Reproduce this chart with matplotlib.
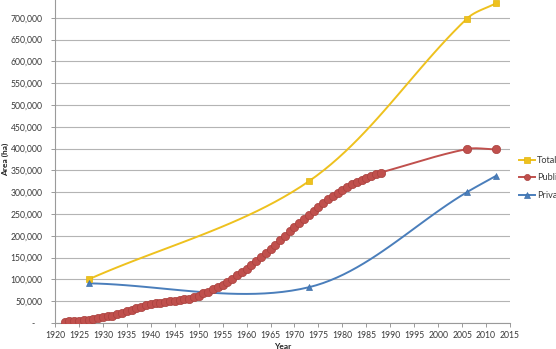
import numpy as np
import matplotlib
matplotlib.use("Agg")
import matplotlib.pyplot as plt
from matplotlib.ticker import FuncFormatter, MultipleLocator, FixedLocator

plt.rcParams['font.family'] = ['Lato', 'DejaVu Sans']

# Area under forest ownership (ha)
total_years = [1927, 1973, 2006, 2012]
total_area = [100000, 325000, 698000, 733000]

private_years = [1927, 1973, 2006, 2012]
private_area = [91000, 82000, 300000, 337000]

public_years = list(range(1922, 1989)) + [2006, 2012]
public_area = [
    3000, 3500, 4000, 5000, 6000, 7500, 9000, 11000, 13000, 15000,      # 1922-1931
    17000, 20000, 23500, 27000, 30500, 34000, 37500, 40500, 43000, 45000,  # 1932-1941
    46500, 48000, 49500, 51000, 52500, 54000, 56000, 59000, 63000, 68000,  # 1942-1951
    72000, 77000, 82000, 88000, 95000, 102000, 109000, 117000, 125000, 134000,  # 1952-1961
    143000, 152000, 161000, 170000, 180000, 190000, 200000, 210000, 220000, 230000,  # 1962-1971
    239000, 248000, 258000, 267000, 276000, 284000, 292000, 299000, 306000, 312000,  # 1972-1981
    318000, 323000, 328000, 333000, 337000, 341000, 345000,  # 1982-1988
    399000, 398000,  # 2006, 2012
]

y_ticks = list(range(0, 700001, 50000))

series = [
    ("Total", total_years, total_area, "#EEC11E", "s", 4.4, "#E3B50C"),
    ("Public", public_years, public_area, "#C0504D", "o", 6.0, "#A9413E"),
    ("Private", private_years, private_area, "#4A7EBB", "^", 4.8, "#3F6FA8"),
]


def smooth(ax, xs, ys, n=24):
    """Chord-weighted Catmull-Rom curve through the points, built in display space."""
    pts = ax.transData.transform(np.column_stack([xs, ys]).astype(float))
    if len(pts) < 3:
        return np.asarray(xs, float), np.asarray(ys, float)
    ext = np.vstack([2 * pts[0] - pts[1], pts, 2 * pts[-1] - pts[-2]])
    d = np.linalg.norm(np.diff(ext, axis=0), axis=1)
    t = np.linspace(0, 1, n, endpoint=False)[:, None]
    h00 = 2 * t**3 - 3 * t**2 + 1
    h10 = t**3 - 2 * t**2 + t
    h01 = -2 * t**3 + 3 * t**2
    h11 = t**3 - t**2
    out = []
    for i in range(1, len(ext) - 2):
        p0, p1, p2, p3 = ext[i - 1], ext[i], ext[i + 1], ext[i + 2]
        dseg = d[i]
        m1 = (p2 - p0) * dseg / (d[i - 1] + dseg)
        m2 = (p3 - p1) * dseg / (dseg + d[i + 1])
        out.append(h00 * p1 + h10 * m1 + h01 * p2 + h11 * m2)
    out.append(pts[-1][None, :])
    c = ax.transData.inverted().transform(np.vstack(out))
    return c[:, 0], c[:, 1]


fig = plt.figure(figsize=(5.56, 3.49), dpi=100)
ax = fig.add_axes([55 / 556, 26 / 349, 455 / 556, 327 / 349])
ax.set_xlim(1920, 2015)
ax.set_ylim(0, 750000)

for label, xs, ys, color, marker, ms, edge in series:
    sx, sy = smooth(ax, xs, ys)
    ax.plot(sx, sy, color=color, lw=1.4, zorder=3, solid_capstyle='round')
    ax.plot(xs, ys, linestyle='none', marker=marker, markersize=ms,
            markerfacecolor=color, markeredgecolor=edge, markeredgewidth=0.5,
            zorder=4)
    ax.plot([], [], color=color, lw=1.4, marker=marker, markersize=4.4,
            markerfacecolor=color, markeredgecolor=edge, markeredgewidth=0.5,
            label=label)

ax.xaxis.set_major_locator(MultipleLocator(5))
ax.yaxis.set_major_locator(FixedLocator(y_ticks))


def yfmt(v, pos):
    if abs(v) < 1:
        return "-   "
    return f"{int(v):,}"


ax.yaxis.set_major_formatter(FuncFormatter(yfmt))
ax.grid(axis='y', color='#B4B4B4', lw=0.8)
ax.set_axisbelow(True)

for side in ('top', 'right'):
    ax.spines[side].set_visible(False)
for side in ('left', 'bottom'):
    ax.spines[side].set_color('#9A9A9A')
    ax.spines[side].set_linewidth(0.8)

ax.tick_params(axis='both', colors='#9A9A9A', labelcolor='#3A3A3A',
               labelsize=6.2, length=3, width=0.7)
ax.tick_params(axis='y', pad=6)
ax.tick_params(axis='x', pad=3)

ax.set_xlabel("Year", fontsize=6, fontweight='bold', color='#222222', labelpad=2)
ax.set_ylabel("Area (ha)", fontsize=6, fontweight='bold', color='#222222')
ax.yaxis.set_label_coords(-0.100, 0.5)

ax.legend(loc='center left', bbox_to_anchor=(519 / 556, (349 - 178) / 349),
          bbox_transform=fig.transFigure, frameon=False, fontsize=6.6,
          handlelength=1.7, handletextpad=0.25, labelspacing=0.9,
          borderaxespad=0, borderpad=0, labelcolor='#3A3A3A')

fig.savefig("out.png", dpi=100)
